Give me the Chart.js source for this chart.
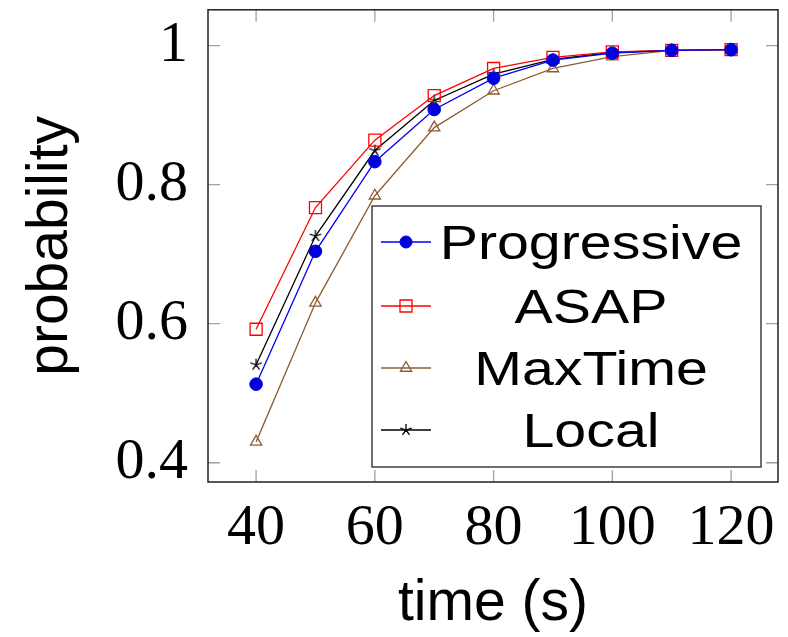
<!DOCTYPE html>
<html>
<head>
<meta charset="utf-8">
<script src="https://cdn.jsdelivr.net/npm/chart.js@4/dist/chart.umd.min.js"></script>
<style>
  html, body { margin: 0; padding: 0; background: #fff; }
  #wrap { width: 788px; height: 637px; }
</style>
</head>
<body>
<div id="wrap"><canvas id="grafico" width="788" height="637"></canvas></div>
<script>
// Datos
const tiempos = [40, 50, 60, 70, 80, 90, 100, 110, 120];
const progressive = [0.513, 0.704, 0.833, 0.908, 0.953, 0.979, 0.989, 0.993, 0.994];
const asap = [0.592, 0.767, 0.864, 0.928, 0.967, 0.983, 0.991, 0.993, 0.994];
const maxTime = [0.430, 0.630, 0.784, 0.882, 0.935, 0.967, 0.984, 0.993, 0.994];
const local = [0.541, 0.726, 0.849, 0.921, 0.959, 0.980, 0.990, 0.993, 0.994];
const ticksX = [40, 60, 80, 100, 120];
const ticksY = [0.4, 0.6, 0.8, 1];

// Estrella de 5 brazos (tipo pgfplots)
function crearEstrella() {
    const c = document.createElement('canvas');
    c.width = 14; c.height = 14;
    const g = c.getContext('2d');
    g.strokeStyle = '#000';
    g.lineWidth = 1.3;
    g.beginPath();
    for (let k = 0; k < 5; k++) {
        const a = -Math.PI / 2 + k * 2 * Math.PI / 5;
        g.moveTo(7, 7);
        g.lineTo(7 + Math.cos(a) * 6, 7 + Math.sin(a) * 6);
    }
    g.stroke();
    return c;
}
const estrella = crearEstrella();

function puntos(valores) {
    return tiempos.map((t, i) => ({ x: t, y: valores[i] }));
}

// Marcas de ticks hacia dentro, marco y leyenda
const marcoPlugin = {
    id: 'marco',
    afterDatasetsDraw(chart) {
        const { ctx, chartArea: a, scales } = chart;
        ctx.save();
        ctx.strokeStyle = '#a0a0a0';
        ctx.lineWidth = 1.3;
        ctx.beginPath();
        ticksX.forEach(v => {
            const x = scales.x.getPixelForValue(v);
            ctx.moveTo(x, a.bottom); ctx.lineTo(x, a.bottom - 12);
            ctx.moveTo(x, a.top); ctx.lineTo(x, a.top + 12);
        });
        ticksY.forEach(v => {
            const y = scales.y.getPixelForValue(v);
            ctx.moveTo(a.left, y); ctx.lineTo(a.left + 12, y);
            ctx.moveTo(a.right, y); ctx.lineTo(a.right - 12, y);
        });
        ctx.stroke();
        ctx.strokeStyle = '#111';
        ctx.lineWidth = 1.4;
        ctx.strokeRect(a.left, a.top, a.right - a.left, a.bottom - a.top);
        ctx.restore();
    },
    afterDraw(chart) {
        const ctx = chart.ctx;
        const caja = { left: 372, top: 206, right: 761, bottom: 467 };
        const filas = [242, 306, 368, 430];
        ctx.save();
        ctx.fillStyle = '#fff';
        ctx.fillRect(caja.left, caja.top, caja.right - caja.left, caja.bottom - caja.top);
        ctx.strokeStyle = '#333';
        ctx.lineWidth = 1.4;
        ctx.strokeRect(caja.left, caja.top, caja.right - caja.left, caja.bottom - caja.top);
        chart.data.datasets.forEach((ds, i) => {
            const y = filas[i];
            ctx.strokeStyle = ds.borderColor;
            ctx.lineWidth = ds.borderWidth;
            ctx.beginPath();
            ctx.moveTo(381, y); ctx.lineTo(431, y);
            ctx.stroke();
            ctx.fillStyle = ds.pointBackgroundColor;
            ctx.strokeStyle = ds.pointBorderColor;
            ctx.lineWidth = ds.pointBorderWidth;
            Chart.helpers.drawPoint(ctx, {
                pointStyle: ds.pointStyle,
                radius: ds.legendRadius,
                rotation: 0,
                borderWidth: ds.pointBorderWidth
            }, 406, y);
            ctx.save();
            ctx.translate(591, y + 17);
            ctx.scale(1.17, 1);
            ctx.fillStyle = '#000';
            ctx.font = '49px "Liberation Sans", Arial, sans-serif';
            ctx.textAlign = 'center';
            ctx.textBaseline = 'alphabetic';
            ctx.fillText(ds.label, 0, 0);
            ctx.restore();
        });
        ctx.restore();
    }
};

const ctx = document.getElementById('grafico').getContext('2d');

new Chart(ctx, {
    type: 'line',
    data: {
        datasets: [{
            label: 'Progressive',
            data: puntos(progressive),
            borderColor: '#0000ff',
            borderWidth: 1.3,
            pointStyle: 'circle',
            pointRadius: 6.3,
            legendRadius: 6,
            pointBackgroundColor: '#0000dd',
            pointBorderColor: '#0000dd',
            pointBorderWidth: 1
        }, {
            label: 'ASAP',
            data: puntos(asap),
            borderColor: '#ff0000',
            borderWidth: 1.3,
            pointStyle: 'rect',
            pointRadius: 8.5,
            legendRadius: 8.5,
            pointBackgroundColor: 'rgba(0,0,0,0)',
            pointBorderColor: '#ff0000',
            pointBorderWidth: 1.3
        }, {
            label: 'MaxTime',
            data: puntos(maxTime),
            borderColor: '#8c5e34',
            borderWidth: 1.3,
            pointStyle: 'triangle',
            pointRadius: 6.5,
            legendRadius: 6.5,
            pointBackgroundColor: 'rgba(0,0,0,0)',
            pointBorderColor: '#8c5e34',
            pointBorderWidth: 1.3
        }, {
            label: 'Local',
            data: puntos(local),
            borderColor: '#000000',
            borderWidth: 1.3,
            pointStyle: estrella,
            pointRadius: 6,
            legendRadius: 6,
            pointBackgroundColor: '#000',
            pointBorderColor: '#000',
            pointBorderWidth: 1.3
        }]
    },
    options: {
        responsive: false,
        animation: false,
        layout: { padding: { top: 9, right: 10, left: 0, bottom: 0 } },
        elements: { line: { tension: 0 } },
        plugins: {
            legend: { display: false },
            tooltip: { enabled: false }
        },
        scales: {
            x: {
                type: 'linear',
                min: 31.9,
                max: 127.9,
                afterBuildTicks: s => { s.ticks = ticksX.map(v => ({ value: v })); },
                afterFit: s => { s.height = 155; s.paddingLeft = 0; s.paddingRight = 0; },
                grid: { display: false, drawTicks: false },
                border: { display: false },
                ticks: {
                    padding: 12,
                    color: '#000',
                    maxRotation: 0,
                    font: { family: '"Liberation Serif", "Times New Roman", serif', size: 58 }
                },
                title: {
                    display: true,
                    text: 'time (s)',
                    color: '#000',
                    font: { family: '"Liberation Sans", Arial, sans-serif', size: 57, lineHeight: 1 },
                    padding: { top: 0, bottom: 4 }
                }
            },
            y: {
                min: 0.3723,
                max: 1.0514,
                afterBuildTicks: s => { s.ticks = ticksY.map(v => ({ value: v })); },
                afterFit: s => { s.width = 208; s.paddingTop = 0; s.paddingBottom = 0; },
                grid: { display: false, drawTicks: false },
                border: { display: false },
                ticks: {
                    padding: 20,
                    color: '#000',
                    callback: v => String(v),
                    font: { family: '"Liberation Serif", "Times New Roman", serif', size: 58 }
                },
                title: {
                    display: true,
                    text: 'probability',
                    color: '#000',
                    font: { family: '"Liberation Sans", Arial, sans-serif', size: 57, lineHeight: 1 },
                    padding: { top: 23, bottom: 0 }
                }
            }
        }
    },
    plugins: [marcoPlugin]
});
</script>
</body>
</html>
